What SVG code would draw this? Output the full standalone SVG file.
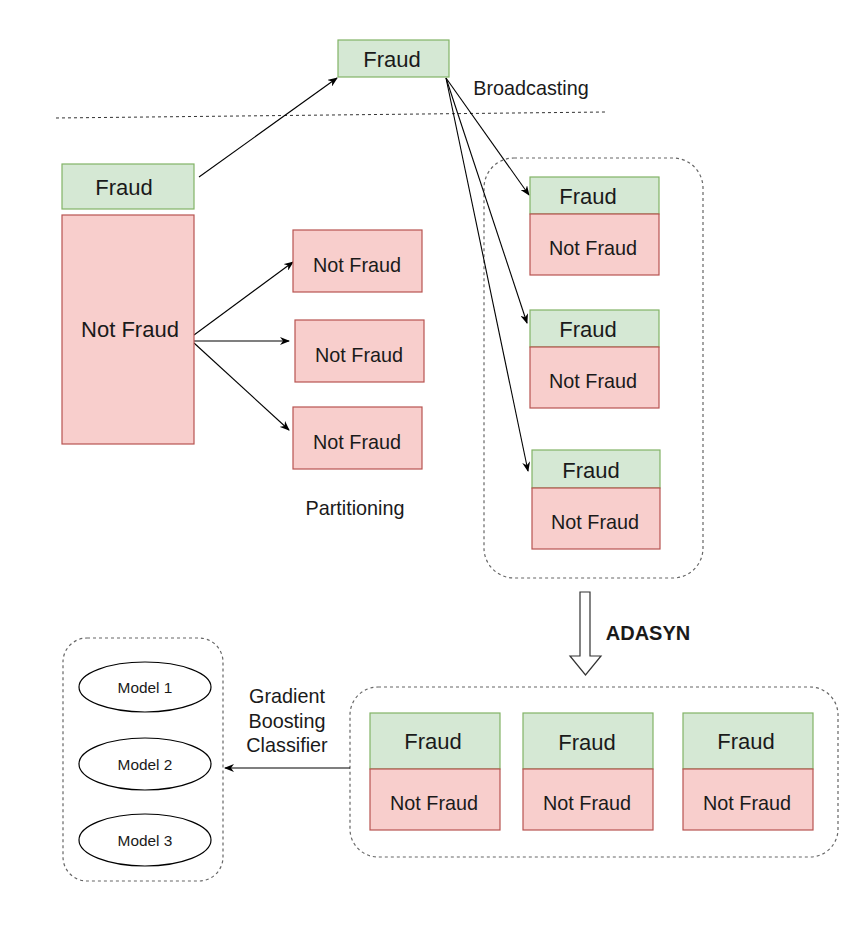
<svg xmlns="http://www.w3.org/2000/svg" width="859" height="949" viewBox="0 0 859 949">
<defs>
<style>
.g{fill:#d5e8d4;stroke:#82b366;stroke-width:1.2}
.r{fill:#f8cecc;stroke:#b85450;stroke-width:1.2}
.c{fill:none;stroke:#666;stroke-width:1.2;stroke-dasharray:3 3}
.t{font-family:"Liberation Sans",Arial,sans-serif;fill:#1a1a1a;text-anchor:middle;dominant-baseline:central}
.f{font-size:22px}
.n{font-size:19.8px}
.m{font-size:15.4px}
.e{fill:#fff;stroke:#000;stroke-width:1.2}
.a{fill:none;stroke:#000;stroke-width:1.1;marker-end:url(#ah)}
</style>
<marker id="ah" viewBox="0 0 10 8" refX="9" refY="4" markerWidth="10" markerHeight="8" markerUnits="userSpaceOnUse" orient="auto">
<path d="M0,0 L10,4 L0,8 L3,4 z" fill="#000"/>
</marker>
</defs>
<rect width="859" height="949" fill="#fff"/>

<line x1="56" y1="118" x2="606" y2="112" stroke="#333" stroke-width="1" stroke-dasharray="3 3"/>

<g id="containers">
<rect id="broadcast-box" class="c" x="484" y="158" width="219" height="420" rx="30"/>
<rect id="adasyn-box" class="c" x="350" y="687" width="488" height="170" rx="28"/>
<rect id="models-box" class="c" x="63" y="638" width="160" height="243" rx="24"/>
</g>

<g id="connectors">
<line class="a" x1="199" y1="177" x2="337" y2="78"/>
<line class="a" x1="446" y1="78" x2="529" y2="195"/>
<line class="a" x1="446" y1="78" x2="527" y2="323"/>
<line class="a" x1="446" y1="78" x2="528" y2="471"/>
<line class="a" x1="194" y1="335" x2="293" y2="262" stroke-width="1.6"/>
<line class="a" x1="194" y1="341" x2="289" y2="341"/>
<line class="a" x1="194" y1="343" x2="289" y2="430"/>
<line class="a" x1="350" y1="768" x2="225" y2="768"/>
<polygon id="adasyn-arrow" points="580,592 590,592 590,656 601,656 585.5,675 570,656 580,656" fill="#fff" stroke="#333" stroke-width="1.2"/>
</g>

<g id="top-fraud">
<rect class="g" x="338" y="40" width="111" height="37"/>
<text class="t f" x="392" y="59">Fraud</text>
</g>
<text class="t n" x="531" y="88">Broadcasting</text>

<g id="left-fraud">
<rect class="g" x="62" y="164" width="132" height="45"/>
<text class="t f" x="124" y="187">Fraud</text>
</g>
<g id="left-notfraud">
<rect class="r" x="62" y="215" width="132" height="229"/>
<text class="t f" x="130" y="329">Not Fraud</text>
</g>

<g id="part1">
<rect class="r" x="293" y="230" width="129" height="62"/>
<text class="t n" x="357" y="265">Not Fraud</text>
</g>
<g id="part2">
<rect class="r" x="295" y="320" width="129" height="62"/>
<text class="t n" x="359" y="355">Not Fraud</text>
</g>
<g id="part3">
<rect class="r" x="293" y="407" width="129" height="62"/>
<text class="t n" x="357" y="442">Not Fraud</text>
</g>
<text class="t n" x="355" y="508">Partitioning</text>

<g id="stack1">
<rect class="g" x="530" y="177" width="129" height="37"/>
<text class="t f" x="588" y="196">Fraud</text>
<rect class="r" x="530" y="214" width="129" height="61"/>
<text class="t n" x="593" y="248">Not Fraud</text>
</g>
<g id="stack2">
<rect class="g" x="530" y="310" width="129" height="37"/>
<text class="t f" x="588" y="329">Fraud</text>
<rect class="r" x="530" y="347" width="129" height="61"/>
<text class="t n" x="593" y="381">Not Fraud</text>
</g>
<g id="stack3">
<rect class="g" x="532" y="450" width="128" height="38"/>
<text class="t f" x="591" y="470">Fraud</text>
<rect class="r" x="532" y="488" width="128" height="61"/>
<text class="t n" x="595" y="522">Not Fraud</text>
</g>

<text class="t" x="648" y="633" font-size="20" font-weight="bold">ADASYN</text>

<g id="bottom1">
<rect class="g" x="370" y="713" width="130" height="56"/>
<text class="t f" x="433" y="741">Fraud</text>
<rect class="r" x="370" y="769" width="130" height="61"/>
<text class="t n" x="434" y="803">Not Fraud</text>
</g>
<g id="bottom2">
<rect class="g" x="523" y="713" width="130" height="56"/>
<text class="t f" x="587" y="742">Fraud</text>
<rect class="r" x="523" y="769" width="130" height="61"/>
<text class="t n" x="587" y="803">Not Fraud</text>
</g>
<g id="bottom3">
<rect class="g" x="683" y="713" width="130" height="56"/>
<text class="t f" x="746" y="741">Fraud</text>
<rect class="r" x="683" y="769" width="130" height="61"/>
<text class="t n" x="747" y="803">Not Fraud</text>
</g>

<text class="t n" x="287" y="696">Gradient</text>
<text class="t n" x="287" y="721">Boosting</text>
<text class="t n" x="287" y="745">Classifier</text>

<g id="model1">
<ellipse class="e" cx="145" cy="687" rx="66" ry="25"/>
<text class="t m" x="145" y="687">Model 1</text>
</g>
<g id="model2">
<ellipse class="e" cx="145" cy="764" rx="66" ry="26"/>
<text class="t m" x="145" y="764">Model 2</text>
</g>
<g id="model3">
<ellipse class="e" cx="145" cy="840" rx="66" ry="26"/>
<text class="t m" x="145" y="840">Model 3</text>
</g>
</svg>
